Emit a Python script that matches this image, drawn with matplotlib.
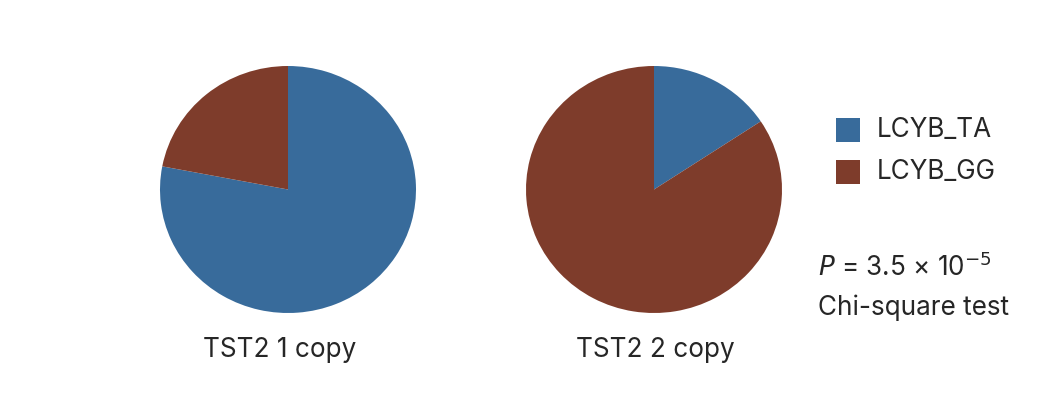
import matplotlib.pyplot as plt
from matplotlib.patches import Rectangle

plt.rcParams['font.family'] = ['Inter', 'DejaVu Sans']

groups = ['TST2 1 copy', 'TST2 2 copy']
genotypes = ['LCYB_TA', 'LCYB_GG']
fractions = [[0.78, 0.22], [0.157, 0.843]]
colors = ['#386b9b', '#7e3c2b']

FS = 18.8
TXT = '#262626'

fig = plt.figure(figsize=(10.5, 4), dpi=100)

centers = [288, 654]
label_x = [280, 655]
for cx, lx, name, vals in zip(centers, label_x, groups, fractions):
    ax = fig.add_axes([(cx - 128) / 1050, (400 - 313) / 400, 256 / 1050, 247 / 400])
    ax.pie(vals, colors=colors, startangle=90, counterclock=False,
           wedgeprops=dict(linewidth=0))
    ax.set_aspect('auto')
    ax.set_xlim(-1, 1)
    ax.set_ylim(-1, 1)
    ax.axis('off')
    fig.text(lx / 1050, 1 - 350 / 400, name, ha='center', va='center',
             fontsize=FS, color=TXT)

# legend
for i, (g, c) in enumerate(zip(genotypes, colors)):
    y = 130 + i * 42
    fig.patches.append(Rectangle((836 / 1050, 1 - (y + 12) / 400), 24 / 1050, 24 / 400,
                                 transform=fig.transFigure, facecolor=c, edgecolor='none'))
    fig.text(877 / 1050, 1 - y / 400, g, ha='left', va='center',
             fontsize=FS, color=TXT)

fig.text(818 / 1050, 1 - 268 / 400, r'$P$ = 3.5 × 10$^{-5}$', ha='left', va='center',
         fontsize=FS, color=TXT)
fig.text(818 / 1050, 1 - 308 / 400, 'Chi-square test', ha='left', va='center',
         fontsize=FS, color=TXT)

fig.savefig('out.png', dpi=100)
